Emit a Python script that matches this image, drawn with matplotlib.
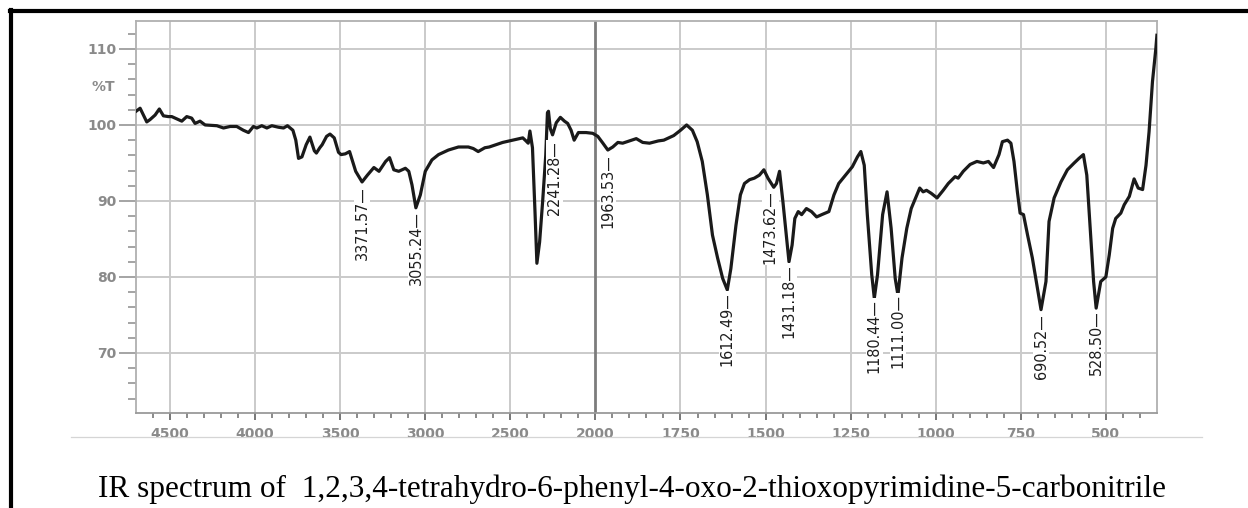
import numpy as np
import matplotlib
matplotlib.use('Agg')
import matplotlib.pyplot as plt
from matplotlib.ticker import FixedLocator
from matplotlib.lines import Line2D

# spectrum (cm-1, %T)
wavenumber = [4700, 4676, 4661, 4637, 4618, 4588, 4563, 4539, 4510, 4490, 4461, 4431, 4402, 4373,
              4353, 4324, 4294, 4225, 4186, 4147, 4108, 4069, 4039, 4010, 3990, 3961, 3931, 3902,
              3863, 3833, 3810, 3778, 3761, 3745, 3725, 3700, 3678, 3652, 3640, 3620, 3606, 3580,
              3560, 3535, 3510, 3495, 3470, 3445, 3409, 3371.57, 3340, 3302, 3272, 3233, 3210, 3185,
              3156, 3117, 3097, 3078, 3055.24, 3029, 3000, 2961, 2922, 2864, 2805, 2747, 2718, 2689,
              2650, 2624, 2584, 2545, 2486, 2427, 2408, 2395, 2385, 2370, 2355, 2344, 2328, 2310,
              2292, 2282, 2276, 2265, 2252, 2230, 2206, 2182, 2163, 2143, 2125, 2100, 2055, 2016,
              1993, 1978, 1963.53, 1949, 1934, 1920, 1900, 1880, 1861, 1841, 1815, 1799, 1770, 1750,
              1732, 1715, 1701, 1686, 1671, 1656, 1641, 1626, 1612.49, 1602, 1587, 1574, 1562, 1547,
              1533, 1518, 1505, 1493, 1476, 1468, 1459, 1449, 1431.18, 1422, 1414, 1404, 1394, 1380,
              1365, 1350, 1335, 1314, 1299, 1285, 1265, 1245, 1230, 1220, 1210, 1201, 1188, 1180.44,
              1171, 1156, 1143, 1131, 1119, 1111.00, 1099, 1085, 1072, 1057, 1047, 1037, 1027, 1013,
              996, 978, 963, 943, 934, 919, 899, 879, 860, 845, 830, 814, 804, 789, 779, 770, 760,
              752, 742, 730, 716, 701, 690.52, 676, 667, 652, 632, 613, 593, 579, 566, 556, 546, 536,
              528.50, 515, 500, 490, 480, 471, 456, 446, 431, 417, 405, 392, 382, 373, 363, 353, 350]
transmittance = [101.8, 102.2, 101.5, 100.4, 100.7, 101.3, 102.1, 101.2, 101.1, 101.1, 100.8, 100.5, 101.1, 100.9,
                 100.2, 100.5, 100.0, 99.9, 99.6, 99.8, 99.8, 99.3, 99.0, 99.8, 99.6, 99.9, 99.6, 99.9,
                 99.7, 99.6, 99.9, 99.3, 98.0, 95.6, 95.8, 97.4, 98.4, 96.6, 96.3, 97.0, 97.4, 98.5,
                 98.8, 98.3, 96.4, 96.1, 96.2, 96.5, 93.9, 92.5, 93.4, 94.4, 93.9, 95.2, 95.7, 94.1,
                 93.9, 94.3, 93.9, 92.1, 89.1, 90.8, 93.9, 95.4, 96.1, 96.7, 97.1, 97.1, 96.9, 96.5,
                 97.0, 97.1, 97.4, 97.7, 98.0, 98.3, 97.9, 97.6, 99.2, 97.0, 88.5, 81.8, 84.6, 90.0,
                 96.0, 101.6, 101.8, 99.5, 98.7, 100.3, 101.0, 100.5, 100.2, 99.3, 98.0, 99.0, 99.0, 98.9,
                 98.5, 97.6, 96.7, 97.1, 97.7, 97.6, 97.9, 98.2, 97.7, 97.6, 97.9, 98.0, 98.6, 99.3,
                 100.0, 99.3, 97.8, 95.2, 90.8, 85.5, 82.5, 79.8, 78.3, 81.1, 86.8, 90.8, 92.3, 92.8,
                 93.0, 93.4, 94.1, 93.0, 91.8, 92.3, 93.9, 89.9, 82.0, 84.2, 87.7, 88.6, 88.2, 89.0,
                 88.6, 87.9, 88.2, 88.6, 90.8, 92.3, 93.4, 94.5, 95.8, 96.5, 94.7, 88.2, 80.3, 77.2,
                 80.3, 88.2, 91.2, 86.4, 79.8, 77.6, 82.5, 86.4, 89.0, 90.6, 91.7, 91.2, 91.4, 91.0,
                 90.4, 91.4, 92.3, 93.2, 93.0, 93.9, 94.8, 95.2, 95.0, 95.2, 94.4, 96.1, 97.8, 98.0, 97.6, 95.2, 91.2,
                 88.4, 88.2, 85.5, 82.5, 78.5, 75.7, 79.4, 87.3, 90.4, 92.5, 94.1, 95.0, 95.6, 96.1, 93.4, 86.4, 79.4,
                 75.9, 79.4, 80.0, 82.9, 86.4, 87.7, 88.4, 89.5, 90.6, 92.9, 91.7, 91.5, 94.7, 99.1, 105.7, 110.1, 111.8]

peak_labels = ['3371.57', '3055.24', '2241.28', '1963.53', '1612.49', '1473.62',
               '1431.18', '1180.44', '1111.00', '690.52', '528.50']
label_wn = [3371.57, 3055.24, 2241.28, 1963.53, 1612.49, 1486, 1431.18, 1180.44, 1111.00, 690.52, 528.50]
label_top = [92.0, 88.7, 97.9, 96.2, 78.0, 91.4, 81.7, 77.1, 77.8, 75.1, 75.6]

x_major = [4500, 4000, 3500, 3000, 2500, 2000, 1750, 1500, 1250, 1000, 750, 500]
x_minor = list(range(4600, 2000, -100)) + list(range(1950, 350, -50))
y_major = [70, 80, 90, 100, 110]
y_minor = list(range(62, 114, 2))

caption = 'IR spectrum of  1,2,3,4-tetrahydro-6-phenyl-4-oxo-2-thioxopyrimidine-5-carbonitrile'


def fwd(w):
    w = np.asarray(w, dtype=float)
    return np.where(w > 2000, 2000 + (w - 2000) / 2, w)


def inv(u):
    u = np.asarray(u, dtype=float)
    return np.where(u > 2000, 2000 + (u - 2000) * 2, u)


fig = plt.figure(figsize=(12.48, 5.08), dpi=100)
ax = fig.add_axes([0.109, 0.187, 0.818, 0.772])
ax.set_xscale('function', functions=(fwd, inv))
ax.set_xlim(4700, 350)
ax.set_ylim(62.1, 113.7)

for x in x_major:
    if x == 2000:
        ax.axvline(x, color='#7c7c7c', lw=2.0, zorder=1)
    else:
        ax.axvline(x, color='#cacaca', lw=1.4, zorder=0)
for y in y_major:
    ax.axhline(y, color='#cacaca', lw=1.4, zorder=0)

ax.plot(wavenumber, transmittance, color='#1a1a1a', lw=2.3, zorder=3)

for lab, wn, top in zip(peak_labels, label_wn, label_top):
    ax.text(wn, top, lab + '\u2014', rotation=90, ha='center', va='top',
            fontsize=11.5, family='DejaVu Sans', fontstretch='condensed', color='#1e1e1e',
            bbox=dict(facecolor='white', edgecolor='none', pad=0.6), zorder=4)

ax.xaxis.set_major_locator(FixedLocator(x_major))
ax.xaxis.set_minor_locator(FixedLocator(x_minor))
ax.set_xticklabels([str(v) for v in x_major])
ax.yaxis.set_major_locator(FixedLocator(y_major))
ax.yaxis.set_minor_locator(FixedLocator(y_minor))
ax.set_yticklabels([str(v) for v in y_major])

ax.tick_params(axis='y', which='major', length=12, width=1.1, color='#8c8c8c',
               labelcolor='#8a8a8a', labelsize=10, pad=2)
ax.tick_params(axis='y', which='minor', length=6, width=1.1, color='#8c8c8c')
ax.tick_params(axis='x', which='major', length=5, width=1.4, color='#777777',
               labelcolor='#8a8a8a', labelsize=10, pad=5)
ax.tick_params(axis='x', which='minor', length=3.5, width=1.2, color='#777777')
for lab in ax.get_xticklabels() + ax.get_yticklabels():
    lab.set_fontweight('bold')

ax.text(-0.0205, 105, '%T', transform=ax.get_yaxis_transform(), ha='right', va='center',
        fontsize=10, fontweight='bold', color='#8a8a8a')

for side in ['top', 'left', 'right']:
    ax.spines[side].set_color('#b0b0b0')
    ax.spines[side].set_linewidth(1.3)
ax.spines['bottom'].set_color('#9a9a9a')
ax.spines['bottom'].set_linewidth(1.3)

# page frame and caption
fig.add_artist(Line2D([10 / 1248, 1], [1 - 11.3 / 508] * 2, transform=fig.transFigure, color='black', lw=3))
fig.add_artist(Line2D([11.3 / 1248] * 2, [0, 1 - 9.5 / 508], transform=fig.transFigure, color='black', lw=3))
fig.add_artist(Line2D([71 / 1248, 1202 / 1248], [1 - 437 / 508] * 2, transform=fig.transFigure,
                      color='#d5d5d5', lw=0.9))
fig.text(98 / 1248, 1 - 497 / 508, caption, fontsize=22.5, family='Liberation Serif',
         ha='left', va='baseline', color='black')

fig.savefig('out.png', dpi=100)
